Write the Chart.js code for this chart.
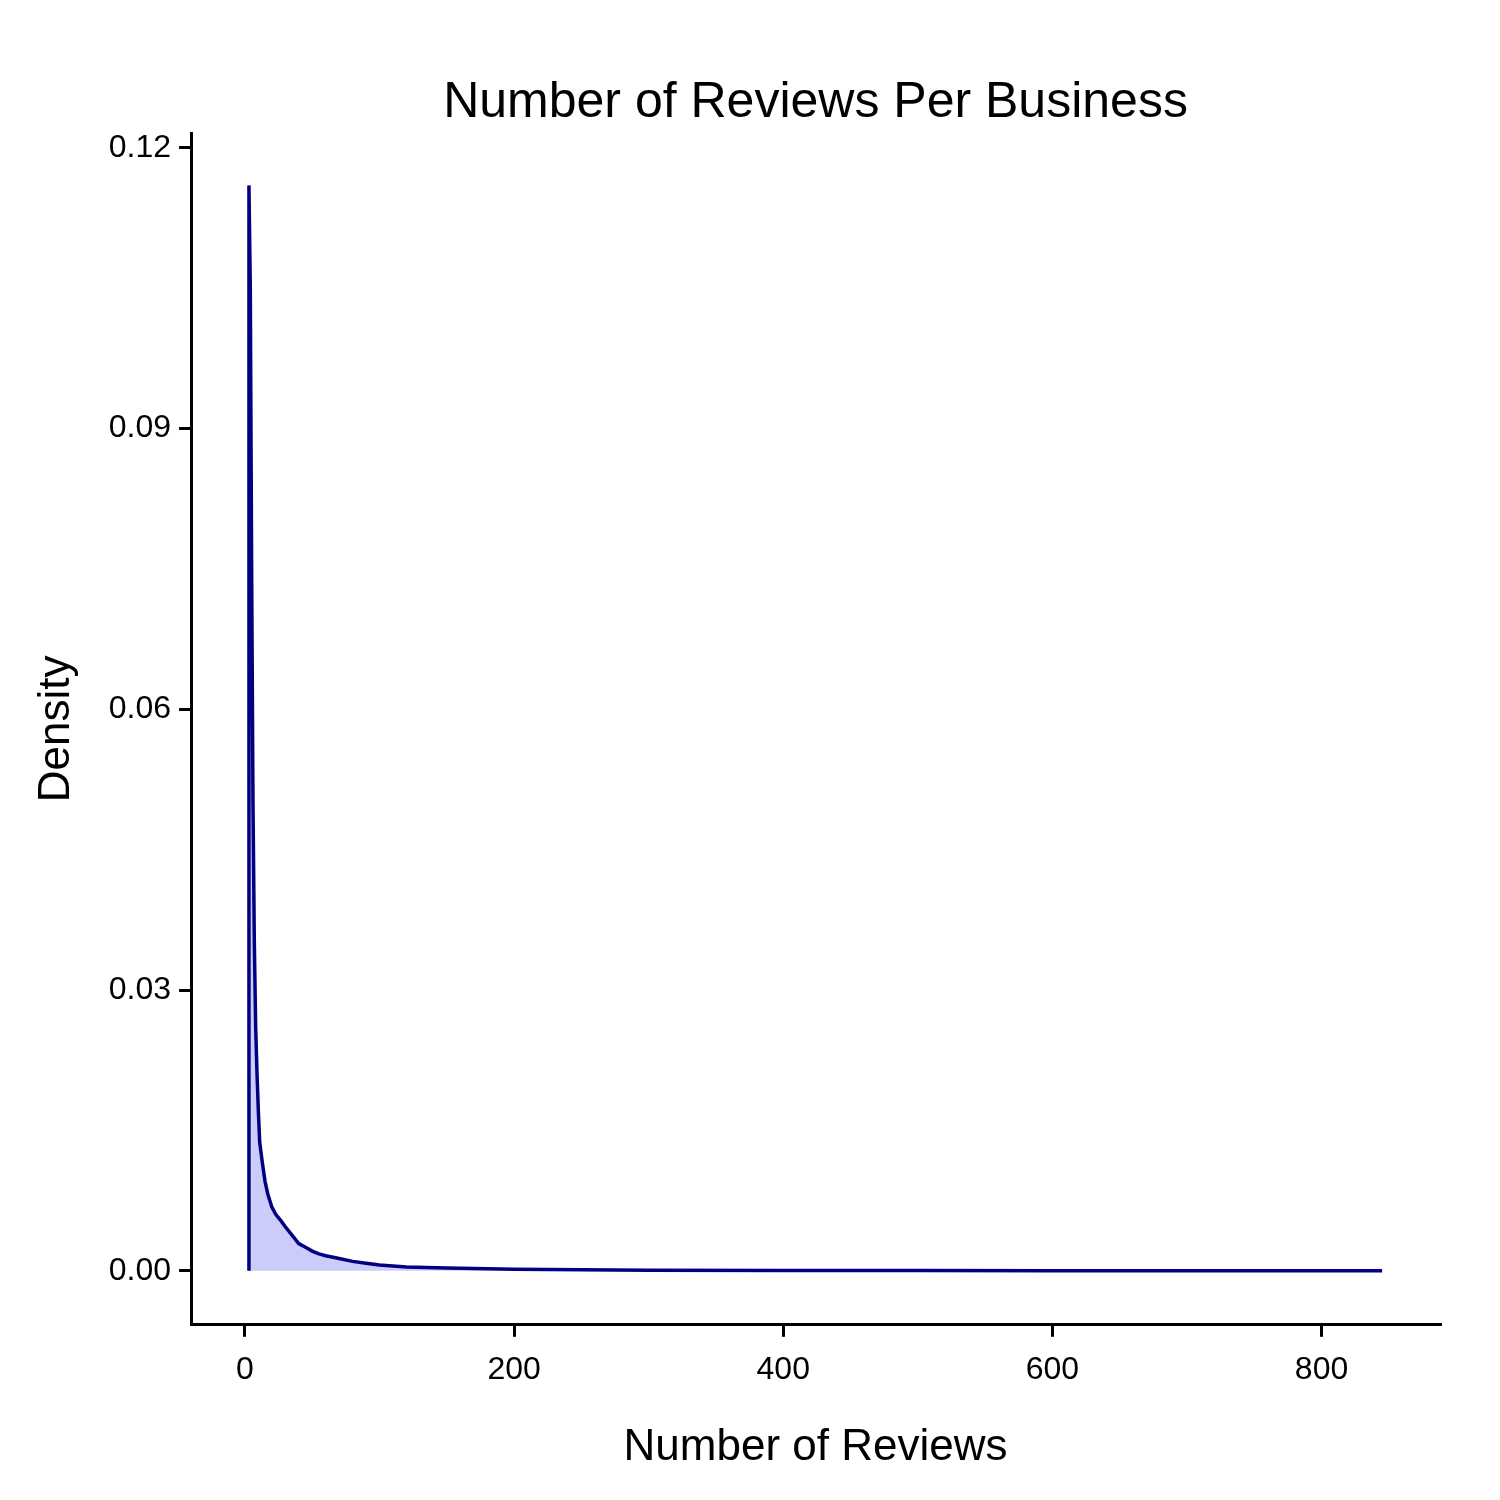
<!DOCTYPE html>
<html>
<head>
<script src="https://cdn.jsdelivr.net/npm/chart.js@4/dist/chart.umd.min.js"></script>
<style>body{margin:0;background:#fff}#c{display:block}</style>
</head>
<body>
<div style="width:1500px;height:1500px"><canvas id="c" width="1500" height="1500"></canvas></div>
<script>
// density curve
const reviews = [3, 3, 4, 5, 6, 7, 8, 9, 10, 11, 13, 15, 17, 20, 23, 27, 30, 35, 40, 45, 50, 55, 60, 70, 80, 90, 100, 120, 150, 200, 250, 300, 400, 500, 600, 700, 845];
const density = [0, 0.116, 0.105, 0.075, 0.05, 0.035, 0.026, 0.021, 0.017, 0.0137, 0.0115, 0.0095, 0.0082, 0.0068, 0.006, 0.0053, 0.0047, 0.0038, 0.0029, 0.0025, 0.0021, 0.0018, 0.0016, 0.0013, 0.001, 0.0008, 0.0006, 0.0004, 0.0003, 0.00015, 0.0001, 0.00005, 0.00003, 0.00002, 0.00001, 0.00001, 0];
const xTicks = [0, 200, 400, 600, 800];
const yTicks = [0, 0.03, 0.06, 0.09, 0.12];
const chartTitle = 'Number of Reviews Per Business';

const font = "'Liberation Sans', Arial, sans-serif";
const axisLine = { display: true, color: '#000', width: 3 };
const tickGrid = { drawOnChartArea: false, drawTicks: true, tickLength: 12, color: '#000', lineWidth: 3 };

// title centred over the plot area, as in the reference
const plotTitle = {
  id: 'plotTitle',
  afterDraw(chart) {
    const ctx = chart.ctx, a = chart.chartArea;
    ctx.save();
    ctx.fillStyle = '#000';
    ctx.font = '50px ' + font;
    ctx.textAlign = 'center';
    ctx.textBaseline = 'alphabetic';
    ctx.fillText(chartTitle, (a.left + a.right) / 2, 117);
    ctx.restore();
  }
};

new Chart(document.getElementById('c'), {
  type: 'line',
  data: {
    datasets: [{
      data: reviews.map((x, i) => ({ x: x, y: density[i] })),
      borderColor: '#000080',
      backgroundColor: 'rgba(0,0,230,0.2)',
      borderWidth: 3.5,
      pointRadius: 0,
      fill: 'origin',
      tension: 0
    }]
  },
  plugins: [plotTitle],
  options: {
    responsive: false,
    animation: false,
    layout: { padding: { left: 26, right: 60, top: 133, bottom: 22 } },
    plugins: {
      legend: { display: false },
      tooltip: { enabled: false },
      title: { display: false }
    },
    scales: {
      x: {
        type: 'linear', min: -40, max: 888,
        afterBuildTicks: s => { s.ticks = xTicks.map(v => ({ value: v })); },
        border: axisLine, grid: tickGrid,
        ticks: { color: '#000', font: { family: font, size: 32 }, padding: 14, maxRotation: 0 },
        title: { display: true, text: 'Number of Reviews', color: '#000', font: { family: font, size: 44 }, padding: { top: 18 } }
      },
      y: {
        min: -0.00578, max: 0.1216,
        afterBuildTicks: s => { s.ticks = yTicks.map(v => ({ value: v })); },
        border: axisLine, grid: tickGrid,
        ticks: { color: '#000', font: { family: font, size: 32 }, padding: 8, callback: v => v.toFixed(2) },
        title: { display: true, text: 'Density', color: '#000', font: { family: font, size: 44 }, padding: { bottom: 18 } }
      }
    }
  }
});
</script>
</body>
</html>
